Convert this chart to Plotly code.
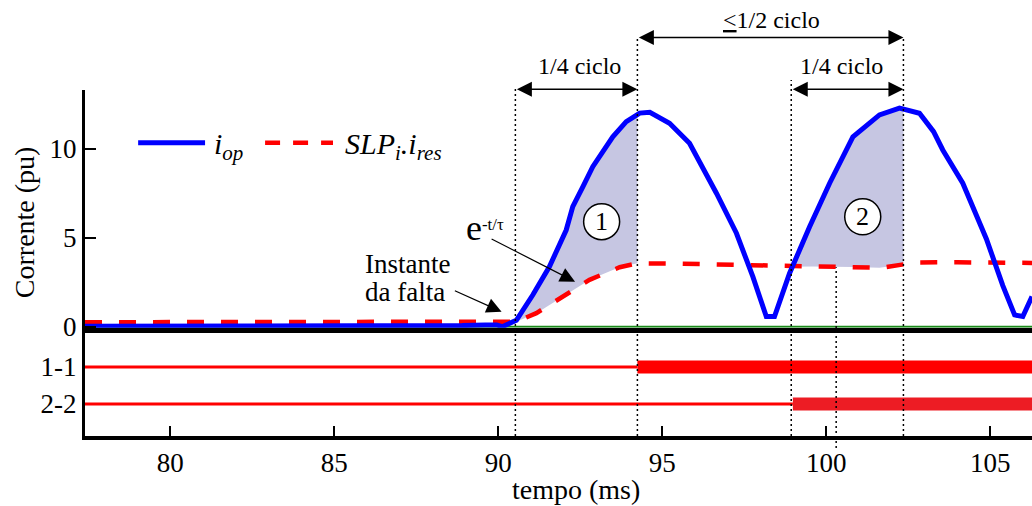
import numpy as np
import plotly.graph_objects as go
from plotly.subplots import make_subplots

# ---------------- data ----------------
t_iop = [77.40, 88.20, 88.90, 89.60, 89.95, 90.12, 90.55, 91.05, 91.56, 92.07, 92.27, 92.58,
         92.88, 93.49, 93.90, 94.31, 94.62, 95.22, 95.83, 96.65, 97.26, 97.76, 98.17, 98.42,
         98.88, 99.49, 100.10, 100.81, 101.62, 102.23, 102.84, 103.27, 103.55, 104.16, 104.88,
         105.38, 105.74, 105.99, 106.27]
iop = [0.02, 0.02, 0.06, 0.10, 0.10, 0.00, 0.36, 1.78, 3.38, 5.43, 6.75, 7.87,
       8.99, 10.67, 11.52, 12.00, 12.05, 11.43, 10.31, 7.50, 5.25, 2.81, 0.57, 0.57,
       3.00, 5.62, 8.06, 10.67, 11.90, 12.28, 11.99, 10.96, 9.93, 8.06, 4.93,
       2.31, 0.66, 0.57, 1.70]

t_res = [77.40, 90.30, 90.55, 91.16, 91.97, 92.78, 93.70, 94.24, 95.50, 97.50, 98.90,
         100.30, 101.70, 102.35, 102.70, 104.00, 106.27]
slp_ires = [0.25, 0.25, 0.28, 0.76, 1.69, 2.63, 3.34, 3.56, 3.54, 3.45, 3.40,
            3.37, 3.31, 3.50, 3.61, 3.62, 3.58]

t_start, t_end = 77.40, 106.27
x_range = [77.40, 106.27]
x_ticks = [80, 85, 90, 95, 100, 105]
y_ticks = [0, 5, 10]
trip_labels = ["1-1", "2-2"]
trip_levels = [2, 1]
trip_times = [94.24, 98.98]
trip_colors = ["#ff0000", "#ed1c24"]

fault_t = 90.52
q1_end = 94.24
q2_start = 98.93
q2_end = 102.35
mid_mark = 100.30
fill1 = [90.58, 94.24]
fill2 = [98.93, 102.35]

FONT = "Liberation Serif"

fig = make_subplots(rows=2, cols=1, shared_xaxes=True, vertical_spacing=0,
                    row_heights=[0.6871, 0.3129])


def band(a, b):
    xs = sorted(set([a, b] + [t for t in t_iop if a < t < b] + [t for t in t_res if a < t < b]))
    up = np.interp(xs, t_iop, iop)
    lo = np.interp(xs, t_res, slp_ires)
    return xs + xs[::-1], list(up) + list(lo[::-1])


for a, b in (fill1, fill2):
    bx, by = band(a, b)
    fig.add_trace(go.Scatter(x=bx, y=by, fill="toself", fillcolor="#c6c6e2",
                             line=dict(width=0), mode="lines", hoverinfo="skip",
                             showlegend=False), row=1, col=1)

fig.add_trace(go.Scatter(x=[t_start, t_end], y=[0, 0], mode="lines",
                         line=dict(color="#1a8a1a", width=2), showlegend=False), row=1, col=1)
fig.add_trace(go.Scatter(x=t_res, y=slp_ires, mode="lines",
                         line=dict(color="#ff0000", width=4.5, dash="17px,17px"),
                         showlegend=False), row=1, col=1)
fig.add_trace(go.Scatter(x=t_iop, y=iop, mode="lines",
                         line=dict(color="#0000ff", width=5), showlegend=False), row=1, col=1)

for lvl, tt, col in zip(trip_levels, trip_times, trip_colors):
    fig.add_trace(go.Scatter(x=[t_start, tt], y=[lvl, lvl], mode="lines",
                             line=dict(color="#ff0000", width=3), showlegend=False), row=2, col=1)
    fig.add_trace(go.Scatter(x=[tt, t_end], y=[lvl, lvl], mode="lines",
                             line=dict(color=col, width=13), showlegend=False), row=2, col=1)

# ---------------- axes ----------------
fig.update_xaxes(range=x_range, showgrid=False, zeroline=False)
fig.update_xaxes(row=1, col=1, showline=True, linecolor="black", linewidth=4.5,
                 ticks="", showticklabels=False)
fig.update_xaxes(row=2, col=1, showline=True, linecolor="black", linewidth=4,
                 ticks="inside", ticklen=10, tickwidth=2, tickcolor="black",
                 tickvals=x_ticks, tickfont=dict(family=FONT, size=27, color="black"))
fig.update_yaxes(row=1, col=1, range=[-0.06, 13.3], showgrid=False, zeroline=False,
                 showline=True, linecolor="black", linewidth=3,
                 ticks="inside", ticklen=11, tickwidth=2, tickcolor="black",
                 tickvals=y_ticks, tickfont=dict(family=FONT, size=27, color="black"))
fig.update_yaxes(row=2, col=1, range=[0.135, 3.06], showgrid=False, zeroline=False,
                 showline=True, linecolor="black", linewidth=3, ticks="",
                 tickvals=trip_levels, ticktext=trip_labels,
                 tickfont=dict(family=FONT, size=27, color="black"))

# ---------------- shapes ----------------
dot = dict(color="black", width=1.5, dash="2px,3px")
shapes = []
for xv, ytop in ((fault_t, 1.0095), (q1_end, 1.154), (q2_start, 1.029), (q2_end, 1.154)):
    shapes.append(dict(type="line", xref="x", yref="paper", x0=xv, x1=xv, y0=0, y1=ytop,
                       line=dot, layer="above"))
shapes.append(dict(type="line", xref="x", yref="paper", x0=mid_mark, x1=mid_mark,
                   y0=-0.035, y1=0.488, line=dot, layer="above"))
# legend samples
shapes.append(dict(type="line", xref="x", yref="y", x0=79.02, x1=81.06, y0=10.34, y1=10.34,
                   line=dict(color="#0000ff", width=5)))
shapes.append(dict(type="line", xref="x", yref="y", x0=82.89, x1=84.96, y0=10.34, y1=10.34,
                   line=dict(color="#ff0000", width=4.5, dash="15px,13px")))
# circles
for cx, cy in ((93.15, 5.90), (101.11, 6.18)):
    shapes.append(dict(type="circle", xref="x", yref="y", x0=cx - 0.549, x1=cx + 0.549,
                       y0=cy - 1.011, y1=cy + 1.011, fillcolor="white",
                       line=dict(color="black", width=1.5), layer="above"))
fig.update_layout(shapes=shapes)

# ---------------- annotations ----------------
ann = []
tf = dict(family=FONT, color="black")


def harrow(x0, x1, yp):
    return dict(x=x1, ax=x0, xref="x", axref="x", y=yp, yref="paper", ay=0, ayref="pixel",
                text="", showarrow=True, arrowside="end+start", arrowhead=2, startarrowhead=2,
                arrowsize=2, startarrowsize=2, arrowwidth=1.5, arrowcolor="black",
                standoff=0, startstandoff=0)


def label(x, y, text, size, xref="x", yref="y", **kw):
    d = dict(x=x, y=y, xref=xref, yref=yref, text=text, showarrow=False,
             xanchor="center", yanchor="middle", font=dict(size=size, **tf))
    d.update(kw)
    return d


ann.append(harrow(fault_t, q1_end, 1.002))
ann.append(harrow(q2_start, q2_end, 1.002))
ann.append(harrow(q1_end, q2_end, 1.152))
ann.append(label(92.46, 1.069, "1/4 ciclo", 24, yref="paper"))
ann.append(label(100.47, 1.069, "1/4 ciclo", 24, yref="paper"))
ann.append(label(98.33, 1.202, "<u>&lt;</u>1/2 ciclo", 24, yref="paper"))
# oblique arrows
ann.append(dict(x=90.10, y=0.84, ax=88.63, ay=2.06, xref="x", yref="y", axref="x", ayref="y",
                text="", showarrow=True, arrowhead=2, arrowsize=2.5, arrowwidth=1.2,
                arrowcolor="black", standoff=0))
ann.append(dict(x=92.34, y=2.53, ax=89.75, ay=4.97, xref="x", yref="y", axref="x", ayref="y",
                text="", showarrow=True, arrowhead=2, arrowsize=2.5, arrowwidth=1.2,
                arrowcolor="black", standoff=0))
ann.append(label(87.24, 3.52, "Instante", 27))
ann.append(label(87.15, 1.95, "da falta", 27))
ann.append(label(89.59, 5.53, "<span style='font-size:36px'>e</span><sup>-t/τ</sup>", 24))
# circle numbers
ann.append(label(93.15, 5.90, "1", 26))
ann.append(label(101.11, 6.18, "2", 26))
# legend texts
ann.append(label(81.27, 10.15, "<i>i<sub>op</sub></i>", 30, xanchor="left"))
ann.append(label(85.27, 10.15, "<i>SLP<sub>i</sub>.i<sub>res</sub></i>", 30, xanchor="left"))
# axis titles
ann.append(label(-0.0644, 0.618, "Corrente (pu)", 28, xref="paper", yref="paper", textangle=-90))
ann.append(label(0.5185, -0.1532, "tempo (ms)", 28, xref="paper", yref="paper"))
fig.update_layout(annotations=ann)

fig.update_layout(width=1032, height=506, margin=dict(l=85, r=0, t=90, b=70),
                  paper_bgcolor="white", plot_bgcolor="white", showlegend=False,
                  font=dict(family=FONT, color="black"))

# remove the default 8px page margin so the figure fills the window exactly
fig.write_html("out.html", config={"displayModeBar": False},
               post_script="document.body.style.margin='0';document.body.style.overflow='hidden';")
